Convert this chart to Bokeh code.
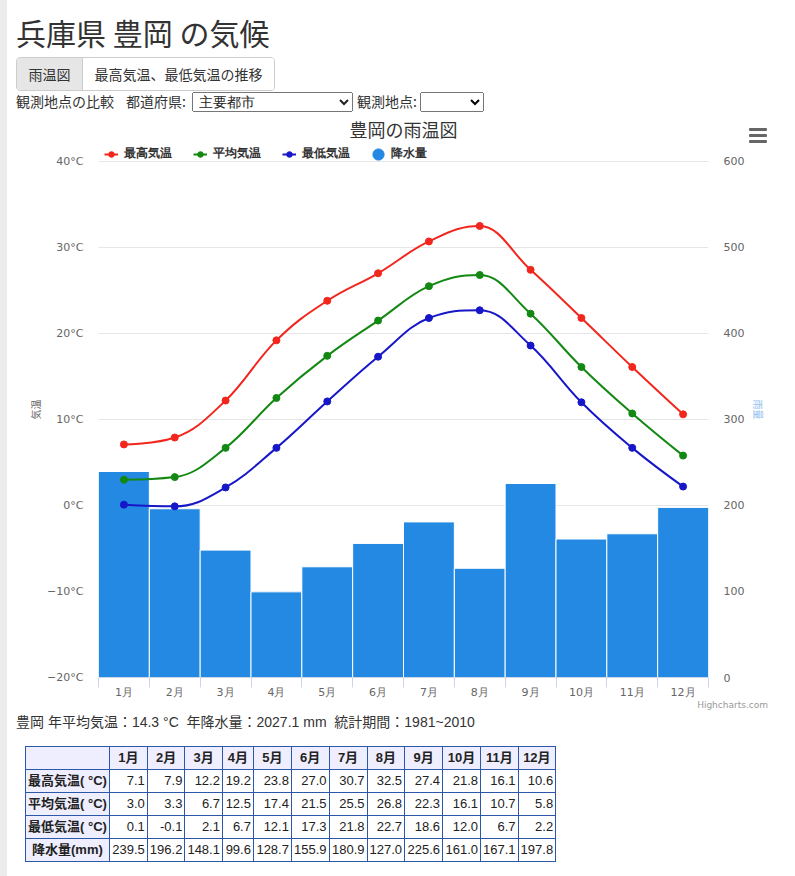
from bokeh.plotting import figure
from bokeh.models import (Range1d, LinearAxis, FixedTicker, Legend, LegendItem, Div)
from bokeh.layouts import column
from bokeh.embed import file_html
from bokeh.resources import INLINE

# ---------------- data ----------------
pref = "兵庫県"
station = "豊岡"
months = ["1月", "2月", "3月", "4月", "5月", "6月", "7月", "8月", "9月", "10月", "11月", "12月"]
t_max = [7.1, 7.9, 12.2, 19.2, 23.8, 27.0, 30.7, 32.5, 27.4, 21.8, 16.1, 10.6]
t_avg = [3.0, 3.3, 6.7, 12.5, 17.4, 21.5, 25.5, 26.8, 22.3, 16.1, 10.7, 5.8]
t_min = [0.1, -0.1, 2.1, 6.7, 12.1, 17.3, 21.8, 22.7, 18.6, 12.0, 6.7, 2.2]
rain = [239.5, 196.2, 148.1, 99.6, 128.7, 155.9, 180.9, 127.0, 225.6, 161.0, 167.1, 197.8]
temp_ticks = [-20, -10, 0, 10, 20, 30, 40]
rain_ticks = [0, 100, 200, 300, 400, 500, 600]
annual_mean = "14.3"
annual_rain = "2027.1"
period = "1981~2010"
series_names = ["最高気温", "平均気温", "最低気温"]
rain_name = "降水量"
row_labels = ["最高気温( °C)", "平均気温( °C)", "最低気温( °C)", "降水量(mm)"]

C_MAX, C_AVG, C_MIN = "#f2261c", "#138813", "#1717c9"
C_RAIN = "#2389e2"
CJK = "Noto Sans CJK JP"
TXT = "DejaVu Sans"
NAN = float("nan")

xs = list(range(len(months)))


def spline(xv, yv, smoothing=1.5):
    """Highcharts-style spline control points."""
    denom = smoothing + 1
    n = len(xv)
    lc, rc = [], []
    for i in range(n):
        x, y = xv[i], yv[i]
        if 0 < i < n - 1:
            lx, ly = xv[i - 1], yv[i - 1]
            nx, ny = xv[i + 1], yv[i + 1]
            lcx = (smoothing * x + lx) / denom
            lcy = (smoothing * y + ly) / denom
            rcx = (smoothing * x + nx) / denom
            rcy = (smoothing * y + ny) / denom
            corr = (rcy - lcy) * (rcx - x) / (rcx - lcx) + y - rcy
            lcy += corr
            rcy += corr
            if lcy > ly and lcy > y:
                lcy = max(ly, y); rcy = 2 * y - lcy
            elif lcy < ly and lcy < y:
                lcy = min(ly, y); rcy = 2 * y - lcy
            if rcy > ny and rcy > y:
                rcy = max(ny, y); lcy = 2 * y - rcy
            elif rcy < ny and rcy < y:
                rcy = min(ny, y); lcy = 2 * y - rcy
            lc.append((lcx, lcy)); rc.append((rcx, rcy))
        else:
            lc.append((x, y)); rc.append((x, y))
    d = dict(x0=[], y0=[], x1=[], y1=[], cx0=[], cy0=[], cx1=[], cy1=[])
    for i in range(1, n):
        d["x0"].append(xv[i - 1]); d["y0"].append(yv[i - 1])
        d["x1"].append(xv[i]); d["y1"].append(yv[i])
        d["cx0"].append(rc[i - 1][0]); d["cy0"].append(rc[i - 1][1])
        d["cx1"].append(lc[i][0]); d["cy1"].append(lc[i][1])
    return d


# ---------------- figure ----------------
# plot area: axis span (-20..40 / 0..600) is 517 px tall; 20 px of headroom
# above the top tick holds the legend row.
AXIS_PX, HEAD_PX = 517, 20
t_span = temp_ticks[-1] - temp_ticks[0]
r_span = rain_ticks[-1] - rain_ticks[0]
p = figure(width=780, height=599,
           x_range=Range1d(-0.5, len(months) - 0.5),
           y_range=Range1d(temp_ticks[0], temp_ticks[-1] + t_span * HEAD_PX / AXIS_PX),
           output_backend="svg", toolbar_location=None,
           min_border_left=98, min_border_right=72,
           min_border_top=27, min_border_bottom=35,
           title=f"{station}の雨温図", margin=(0, 0, 0, 0))
p.outline_line_color = None
p.background_fill_color = "white"
p.border_fill_color = "white"
p.extra_y_ranges = {"rain": Range1d(rain_ticks[0], rain_ticks[-1] + r_span * HEAD_PX / AXIS_PX)}

p.title.align = "center"
p.title.text_font = CJK
p.title.text_font_size = "18px"
p.title.text_font_style = "normal"
p.title.text_color = "#333333"
p.title.standoff = 0

# grid
p.xgrid.visible = False
p.ygrid.ticker = FixedTicker(ticks=temp_ticks)
p.ygrid.grid_line_color = "#e6e6e6"

# left axis
ya = p.yaxis[0]
ya.ticker = FixedTicker(ticks=temp_ticks)
ya.major_label_overrides = {t: f"{t}°C".replace("-", "−") for t in temp_ticks}
ya.axis_line_color = None
ya.major_tick_line_color = None
ya.major_tick_out = 0
ya.major_tick_in = 0
ya.minor_tick_line_color = None
ya.minor_tick_out = 0
ya.major_label_standoff = 15
ya.major_label_text_font = TXT
ya.major_label_text_font_size = "11px"
ya.major_label_text_color = "#666666"
ya.axis_label = "気温"
ya.axis_label_text_font = CJK
ya.axis_label_text_font_size = "10px"
ya.axis_label_text_font_style = "normal"
ya.axis_label_text_color = "#666666"
ya.axis_label_standoff = 1

# right axis
ra = LinearAxis(y_range_name="rain", ticker=FixedTicker(ticks=rain_ticks))
ra.axis_line_color = None
ra.major_tick_line_color = None
ra.major_tick_out = 0
ra.major_tick_in = 0
ra.minor_tick_line_color = None
ra.minor_tick_out = 0
ra.major_label_standoff = 15
ra.major_label_text_font = TXT
ra.major_label_text_font_size = "11px"
ra.major_label_text_color = "#666666"
ra.axis_label = "雨量"
ra.axis_label_text_font = CJK
ra.axis_label_text_font_size = "10px"
ra.axis_label_text_font_style = "normal"
ra.axis_label_text_color = "#8fbff0"
ra.axis_label_standoff = 4
p.add_layout(ra, "right")

# x axis
xa = p.xaxis[0]
xa.ticker = FixedTicker(ticks=xs, minor_ticks=[x - 0.5 for x in xs] + [xs[-1] + 0.5])
xa.major_label_overrides = {x: m for x, m in zip(xs, months)}
xa.axis_line_color = "#ccd6eb"
xa.major_tick_line_color = None
xa.major_tick_out = 0
xa.major_tick_in = 0
xa.minor_tick_line_color = "#ccd6eb"
xa.minor_tick_out = 10
xa.minor_tick_in = 0
xa.major_label_standoff = -2
xa.major_label_text_font = TXT
xa.major_label_text_font_size = "11px"
xa.major_label_text_color = "#666666"

# bars
p.vbar(x=xs, top=rain, bottom=0, width=1, y_range_name="rain",
       fill_color=C_RAIN, line_color="white", line_width=1)

items = []
for name, ys, col in zip(series_names, [t_max, t_avg, t_min], [C_MAX, C_AVG, C_MIN]):
    p.bezier(source=spline(xs, ys), x0="x0", y0="y0", x1="x1", y1="y1",
             cx0="cx0", cy0="cy0", cx1="cx1", cy1="cy1",
             line_color=col, line_width=2)
    p.scatter(x=xs, y=ys, size=7, fill_color=col, line_color=col)
    # legend-only renderers (no visible data)
    ln = p.line(x=[NAN], y=[NAN], line_color=col, line_width=2)
    mk = p.scatter(x=[NAN], y=[NAN], size=7, fill_color=col, line_color=col)
    items.append(LegendItem(label=name, renderers=[ln, mk]))
rain_leg = p.ellipse(x=[NAN], y=[NAN], width=12, height=12,
                     width_units="screen", height_units="screen",
                     fill_color=C_RAIN, line_color=C_RAIN)
items.append(LegendItem(label=rain_name, renderers=[rain_leg]))

legend = Legend(items=items, orientation="horizontal", location=(6, AXIS_PX - 2),
                glyph_width=14, glyph_height=14, label_standoff=6, spacing=21,
                padding=0, margin=0, border_line_color=None,
                background_fill_alpha=0,
                label_text_font=TXT, label_text_font_size="12px",
                label_text_font_style="bold", label_text_color="#333333",
                label_height=12)
p.add_layout(legend, "center")

# ---------------- header / footer ----------------
bar = "position:absolute;left:0;width:18px;height:3px;background:#666;border-radius:1px;"
header_html = f"""
<div style="position:fixed;left:0;top:0;width:7px;height:100vh;background:#ececec;z-index:50"></div>
<div style="position:relative;width:780px;height:113px;font-family:'{CJK}',sans-serif;color:#333;">
  <div style="position:absolute;left:16px;top:15px;font-size:30px;line-height:34px;white-space:nowrap;">{pref} {station} の気候</div>
  <div style="position:absolute;left:16px;top:57px;width:259px;height:34px;box-sizing:border-box;border:1px solid #cccccc;border-radius:4px;display:flex;font-size:14px;overflow:hidden;">
    <div style="width:66px;background:#e6e6e6;border-right:1px solid #cccccc;display:flex;align-items:center;justify-content:center;">雨温図</div>
    <div style="flex:1;display:flex;align-items:center;justify-content:center;background:#fff;">最高気温、最低気温の推移</div>
  </div>
  <div style="position:absolute;left:16px;top:91px;font-size:14px;line-height:20px;white-space:nowrap;">観測地点の比較</div>
  <div style="position:absolute;left:126px;top:91px;font-size:14px;line-height:20px;white-space:nowrap;">都道府県:</div>
  <select style="position:absolute;left:192px;top:92px;width:161px;height:20px;box-sizing:border-box;padding:0 2px;font-size:14px;font-family:'Liberation Sans',sans-serif;color:#222;"><option>主要都市</option></select>
  <div style="position:absolute;left:357px;top:91px;font-size:14px;line-height:20px;white-space:nowrap;">観測地点:</div>
  <select style="position:absolute;left:420px;top:92px;width:64px;height:20px;box-sizing:border-box;padding:0;font-size:14px;font-family:'Liberation Sans',sans-serif;"><option></option></select>
  <div style="position:absolute;left:749px;top:128px;width:18px;height:15px;z-index:40;">
    <div style="{bar}top:0px"></div><div style="{bar}top:6px"></div><div style="{bar}top:12px"></div>
  </div>
</div>
"""
header = Div(text=header_html, width=780, height=113, margin=0)

col_w = [83, 38, 37, 37, 31, 38, 37, 38, 37, 38, 38, 37, 37]
bc = "#2b58a8"
cell = f"border:1px solid {bc};padding:0 2px;height:23px;"
rows = f'<tr><th style="{cell}background:#eeeeff;width:{col_w[0]}px"></th>'
for m, w in zip(months, col_w[1:]):
    rows += f'<th style="{cell}background:#eeeeff;width:{w}px;text-align:center;">{m}</th>'
rows += "</tr>"
for lab, vals in zip(row_labels, [t_max, t_avg, t_min, rain]):
    rows += f'<tr><th style="{cell}background:#eeeeff;text-align:center;white-space:nowrap;">{lab}</th>'
    for v in vals:
        rows += f'<td style="{cell}text-align:right;">{v:.1f}</td>'
    rows += "</tr>"

footer_html = f"""
<div style="position:relative;width:780px;height:160px;font-family:'Liberation Sans','{CJK}',sans-serif;color:#333;">
  <div style="position:absolute;right:12px;top:-13px;font-family:'{TXT}';font-size:9px;line-height:12px;color:#999;z-index:40;white-space:nowrap;">Highcharts.com</div>
  <div style="position:absolute;left:16px;top:0px;font-size:14px;line-height:20px;white-space:nowrap;">{station} 年平均気温：{annual_mean} °C&nbsp; 年降水量：{annual_rain} mm&nbsp; 統計期間：{period}</div>
  <table style="position:absolute;left:25px;top:34px;border-collapse:collapse;font-size:13px;table-layout:fixed;color:#222;">
    {rows}
  </table>
</div>
"""
footer = Div(text=footer_html, width=780, height=160, margin=0)

layout = column(header, p, footer, spacing=0)
open("out.html", "w").write(file_html(layout, INLINE))
